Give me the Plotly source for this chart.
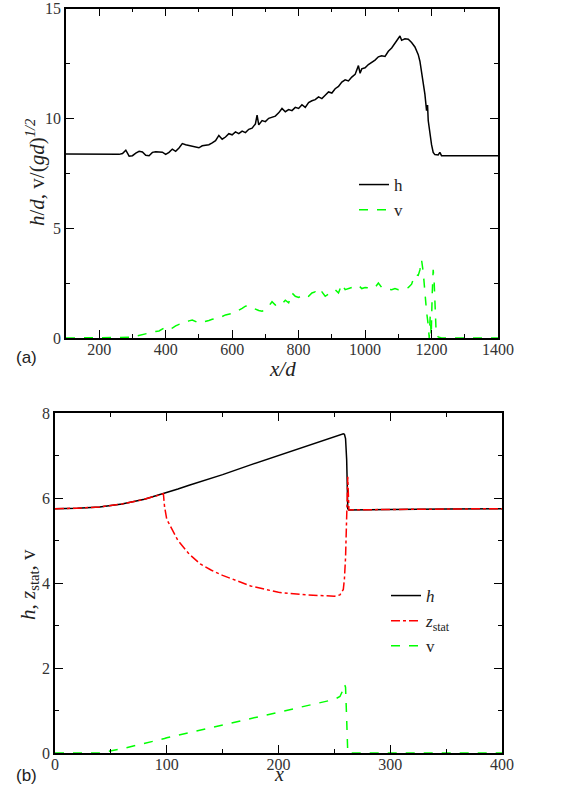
import plotly.graph_objects as go

# ---- panel (a) data ----
xa_h = [100, 150, 200, 250, 260, 270, 280, 290, 300, 310, 320, 330, 340, 350, 360, 370, 380, 390,
        400, 410, 420, 430, 440, 450, 460, 470, 480, 490, 500, 510, 520, 530, 540, 550, 560, 570,
        580, 590, 600, 610, 620, 630, 640, 650, 660, 670, 675, 680, 690, 700, 710, 720, 730, 740,
        750, 760, 770, 780, 790, 800, 810, 820, 830, 840, 850, 860, 870, 880, 890, 900, 910, 920,
        930, 940, 950, 960, 970, 980, 985, 990, 1000, 1010, 1020, 1030, 1040, 1050, 1060, 1070,
        1080, 1090, 1100, 1105, 1110, 1120, 1130, 1140, 1150, 1160, 1165, 1170, 1175, 1180, 1185,
        1188, 1190, 1195, 1200, 1205, 1210, 1220, 1225, 1230, 1240, 1300, 1400]
h_a = [8.38, 8.38, 8.37, 8.35, 8.36, 8.40, 8.55, 8.28, 8.30, 8.42, 8.50, 8.47, 8.32, 8.30, 8.45, 8.48, 8.47, 8.46,
       8.36, 8.45, 8.60, 8.50, 8.65, 8.85, 8.80, 8.76, 8.74, 8.70, 8.66, 8.75, 8.78, 8.80, 8.88, 8.98, 9.22, 9.05,
       9.15, 9.30, 9.25, 9.38, 9.30, 9.42, 9.35, 9.50, 9.55, 9.75, 10.15, 9.70, 9.90, 9.85, 10.00, 10.05, 10.10, 10.25,
       10.45, 10.30, 10.40, 10.35, 10.50, 10.45, 10.62, 10.50, 10.72, 10.80, 10.85, 10.98, 10.90, 11.05, 11.20, 11.15, 11.35, 11.45,
       11.65, 11.75, 11.70, 11.88, 12.00, 12.40, 12.05, 12.25, 12.30, 12.45, 12.55, 12.65, 12.80, 12.85, 12.82, 13.05,
       13.20, 13.40, 13.65, 13.75, 13.55, 13.62, 13.60, 13.45, 13.25, 12.90, 12.60, 12.15, 11.70, 11.10, 10.35,
       10.60, 9.90, 9.30, 8.80, 8.45, 8.35, 8.33, 8.45, 8.30, 8.30, 8.30, 8.30]

xa_v = [100, 200, 280, 290, 300, 310, 320, 330, 340, 350, 360, 370, 380, 390, 400, 410, 420, 430, 440, 450,
        460, 470, 480, 490, 500, 510, 520, 530, 540, 550, 560, 570, 580, 590, 600, 610, 620, 630, 640, 650,
        660, 670, 680, 690, 700, 710, 720, 730, 740, 750, 760, 770, 780, 790, 800, 810, 820, 830, 840, 850,
        860, 870, 880, 890, 900, 910, 920, 930, 940, 950, 960, 970, 980, 990, 1000, 1010, 1020, 1030, 1040,
        1050, 1060, 1070, 1080, 1090, 1100, 1110, 1120, 1130, 1140, 1150, 1160, 1165, 1170, 1175, 1180, 1185,
        1190, 1193, 1196, 1199, 1202, 1205, 1208, 1211, 1214, 1220, 1230, 1300, 1400]
v_a = [0.0, 0.0, 0.0, 0.0, 0.03, 0.08, 0.12, 0.15, 0.18, 0.25, 0.28, 0.30, 0.32, 0.40, 0.50, 0.42, 0.45, 0.55, 0.62, 0.65,
       0.72, 0.78, 0.82, 0.75, 0.68, 0.72, 0.75, 0.80, 0.85, 0.88, 0.95, 0.98, 1.05, 1.08, 1.12, 1.18, 1.25, 1.35, 1.45, 1.48,
       1.38, 1.30, 1.25, 1.22, 1.30, 1.45, 1.65, 1.50, 1.60, 1.55, 1.72, 1.60, 2.05, 1.90, 1.85, 1.92, 1.98, 1.90, 2.05, 2.10,
       1.95, 2.10, 1.90, 2.00, 2.10, 2.20, 2.05, 2.45, 2.20, 2.25, 2.30, 2.35, 2.40, 2.25, 2.30, 2.28, 2.32, 2.30, 2.50,
       2.30, 2.25, 2.22, 2.20, 2.25, 2.20, 2.22, 2.25, 2.30, 2.45, 2.90, 2.85, 3.10, 3.55, 3.00, 2.00, 1.20,
       0.60, 0.00, 1.00, 0.10, 2.00, 3.10, 2.50, 1.00, 0.20, 0.05, 0.0, 0.0, 0.0]

# ---- panel (b) data ----
xb = [0, 20, 40, 60, 80, 97, 98, 100, 110, 120, 130, 140, 150, 175, 200, 225, 250, 255, 258, 259, 260,
      261, 262, 263, 270, 300, 350, 400]
h_b = [5.75, 5.76, 5.79, 5.86, 5.97, 6.10, 6.11, 6.13, 6.21, 6.30, 6.38, 6.47, 6.55, 6.78, 7.00, 7.23, 7.45,
       7.48, 7.51, 7.50, 7.40, 6.90, 5.75, 5.72, 5.72, 5.73, 5.74, 5.75]
z_b = [5.75, 5.76, 5.79, 5.86, 5.97, 6.10, 5.80, 5.50, 5.00, 4.68, 4.45, 4.30, 4.18, 3.93, 3.78, 3.72, 3.69,
       3.72, 3.85, 4.10, 4.60, 5.40, 6.50, 5.72, 5.72, 5.73, 5.74, 5.75]
v_b = [0.0, 0.0, 0.0, 0.10, 0.22, 0.33, 0.34, 0.36, 0.42, 0.49, 0.55, 0.61, 0.67, 0.82, 0.97, 1.12, 1.26,
       1.33, 1.50, 1.62, 1.55, 0.80, 0.0, 0.0, 0.0, 0.0, 0.0, 0.0]

W, H = 569, 787
def px(x):
    return x / W
def py(y):
    return 1 - y / H

serif = "Liberation Serif"
fig = go.Figure()
fig.add_trace(go.Scatter(x=xa_h, y=h_a, name="h", mode="lines",
                         line=dict(color="black", width=1.5), xaxis="x", yaxis="y", legend="legend"))
fig.add_trace(go.Scatter(x=xa_v, y=v_a, name="v", mode="lines",
                         line=dict(color="#00ff00", width=1.5, dash="dash"), xaxis="x", yaxis="y", legend="legend"))
fig.add_trace(go.Scatter(x=xb, y=h_b, name="<i>h</i>", mode="lines",
                         line=dict(color="black", width=1.5), xaxis="x2", yaxis="y2", legend="legend2"))
fig.add_trace(go.Scatter(x=xb, y=z_b, name="<i>z</i><sub>stat</sub>", mode="lines",
                         line=dict(color="#ff0000", width=1.5, dash="dashdot"), xaxis="x2", yaxis="y2", legend="legend2"))
fig.add_trace(go.Scatter(x=xb, y=v_b, name="v", mode="lines",
                         line=dict(color="#00ff00", width=1.5, dash="dash"), xaxis="x2", yaxis="y2", legend="legend2"))

ax = dict(showline=True, linecolor="black", linewidth=1.5, mirror="allticks", ticks="inside",
          ticklen=8, tickwidth=1, tickcolor="black", showgrid=False, zeroline=False,
          automargin=False, tickfont=dict(family=serif, size=16, color="#333"))
minor = dict(ticklen=4, ticks="inside", tickcolor="black", tickwidth=1)
tfont = dict(family=serif, size=21, color="#222")

def label(text, x, y, angle=0, font=tfont, yanchor="middle"):
    return dict(text=text, x=px(x), y=py(y), xref="paper", yref="paper", showarrow=False,
                xanchor="center", yanchor=yanchor, textangle=angle, font=font)

lab_font = dict(family="Liberation Sans", size=17, color="#222")

fig.update_layout(
    width=W, height=H, template="none",
    margin=dict(l=0, r=0, t=0, b=0),
    paper_bgcolor="white", plot_bgcolor="white",
    xaxis=dict(ax, domain=[px(66), px(498)], anchor="y", range=[100, 1400], dtick=200, tick0=0,
               minor=dict(minor, dtick=100), ticklabelstandoff=-4),
    yaxis=dict(ax, domain=[py(338), py(8.5)], anchor="x", range=[0, 15], dtick=5,
               minor=dict(minor, dtick=2.5)),
    xaxis2=dict(ax, domain=[px(55), px(502)], anchor="y2", range=[0, 400], dtick=100,
                minor=dict(minor, dtick=50), ticklabelstandoff=-4),
    yaxis2=dict(ax, domain=[py(753), py(413)], anchor="x2", range=[0, 8], dtick=2,
                minor=dict(minor, dtick=1)),
    legend=dict(x=px(354), y=py(167), xanchor="left", yanchor="top", bgcolor="rgba(0,0,0,0)",
                font=dict(family=serif, size=17, color="#222"), tracegroupgap=0),
    legend2=dict(x=px(386), y=py(578), xanchor="left", yanchor="top", bgcolor="rgba(0,0,0,0)",
                 font=dict(family=serif, size=17, color="#222"), tracegroupgap=0),
    annotations=[
        label("<i>x/d</i>", 282, 369),
        label("<i>h</i>/<i>d</i>, v/(<i>gd</i>)<sup><i>1/2</i></sup>", 35, 172, angle=-90),
        label("<i>x</i>", 279, 787, font=dict(tfont, size=20), yanchor="bottom"),
        label("<i>h</i>, <i>z</i><sub>stat</sub>, v", 29, 585, angle=-90),
        label("(a)", 26, 357, font=lab_font),
        label("(b)", 26, 775, font=lab_font),
    ],
)

fig.write_html("out.html", config={"displayModeBar": False},
               post_script="document.body.style.margin='0';")
